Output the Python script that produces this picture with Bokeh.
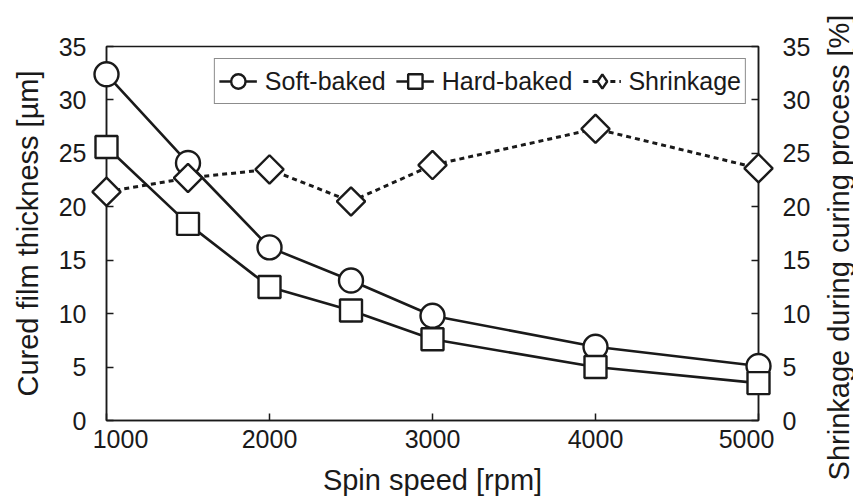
import math
from bokeh.plotting import figure
from bokeh.models import (Range1d, LinearAxis, FixedTicker, SingleIntervalTicker,
                          Legend, LegendItem)
from bokeh.core.properties import value
from bokeh.embed import file_html
from bokeh.resources import INLINE

speed = [1000, 1500, 2000, 2500, 3000, 4000, 5000]
soft_baked = [32.4, 24.1, 16.2, 13.1, 9.8, 6.9, 5.1]
hard_baked = [25.6, 18.4, 12.5, 10.3, 7.6, 5.0, 3.5]
shrinkage = [21.4, 22.7, 23.5, 20.5, 23.9, 27.3, 23.6]
x_ticks = [1000, 2000, 3000, 4000, 5000]
x_tick_labels = [str(t) for t in x_ticks]
x_title = "Spin speed [rpm]"
y_title = "Cured film thickness [µm]"
y2_title = "Shrinkage during curing process [%]"

FONT = "Liberation Sans"
INK = "#1a1a1a"

p = figure(width=853, height=498, output_backend="svg", toolbar_location=None,
           x_range=Range1d(1000, 5000), y_range=Range1d(0, 35),
           min_border_left=106, min_border_right=95, min_border_top=46,
           min_border_bottom=78)
p.extra_y_ranges = {"shr": Range1d(0, 35)}
p.xgrid.visible = False
p.ygrid.visible = False
p.outline_line_color = INK
p.outline_line_width = 1.5
p.background_fill_color = "white"
p.border_fill_color = "white"

# axes
p.xaxis.ticker = FixedTicker(ticks=x_ticks)
p.yaxis.ticker = SingleIntervalTicker(interval=5)
p.xaxis.axis_label = x_title
p.yaxis.axis_label = y_title
right = LinearAxis(y_range_name="shr", ticker=SingleIntervalTicker(interval=5))
p.add_layout(right, "right")

for ax in [p.xaxis[0], p.yaxis[0], right]:
    ax.major_tick_in = 7
    ax.major_tick_out = 0
    ax.minor_tick_line_color = None
    ax.axis_line_color = INK
    ax.axis_line_width = 1.5
    ax.major_tick_line_color = INK
    ax.major_tick_line_width = 1.5
    ax.major_label_text_font = FONT
    ax.major_label_text_font_size = "25px"
    ax.major_label_text_color = INK
    ax.axis_label_text_font = FONT
    ax.axis_label_text_font_size = "29px"
    ax.axis_label_text_font_style = "normal"
    ax.axis_label_text_color = INK

p.yaxis[0].major_label_standoff = 16
p.yaxis[0].axis_label_standoff = 12
right.major_label_standoff = 20

# right-hand title, reading bottom-to-top like the left one
y2t = p.text(x=[p.x_range.end], y=[(p.y_range.start + p.y_range.end) / 2],
             text=[y2_title], angle=math.pi / 2, x_offset=80, y_offset=14,
             text_align="center", text_baseline="middle",
             text_font=value(FONT), text_font_size="29px", text_color=INK,
             y_range_name="shr")
y2t.level = "overlay"

# x tick labels drawn as text so the end labels can sit inward (as in the original)
p.xaxis[0].major_label_overrides = {t: "" for t in x_ticks}
p.xaxis[0].major_label_standoff = 0
p.xaxis[0].axis_label_standoff = 43
xl = p.text(x=x_ticks, y=[0] * len(x_ticks), text=x_tick_labels,
            x_offset=[14, 0, 0, 0, -12], y_offset=9,
            text_align="center", text_baseline="top",
            text_font=value(FONT), text_font_size="25px", text_color=INK)
xl.level = "overlay"

# series
l1 = p.line(speed, soft_baked, line_color=INK, line_width=2.6)
m1 = p.scatter(speed, soft_baked, marker="circle", size=24, fill_color="white",
               line_color=INK, line_width=2.4)
l2 = p.line(speed, hard_baked, line_color=INK, line_width=2.6)
m2 = p.scatter(speed, hard_baked, marker="square", size=22, fill_color="white",
               line_color=INK, line_width=2.4)
l3 = p.line(speed, shrinkage, line_color=INK, line_width=3, line_dash="5 4",
            y_range_name="shr")
# diamond marker used for the legend key; hidden under the rotated squares below
m3_key = p.scatter(speed, shrinkage, marker="diamond", size=18, fill_color="white",
                   line_color=INK, line_width=2.4, y_range_name="shr")
m3 = p.scatter(speed, shrinkage, marker="square", angle=math.pi / 4, size=20,
               fill_color="white", line_color=INK, line_width=2.4, y_range_name="shr")
for r in [l1, m1, l2, m2, l3, m3]:
    r.level = "overlay"

legend = Legend(items=[
    LegendItem(label="Soft-baked", renderers=[l1, m1]),
    LegendItem(label="Hard-baked", renderers=[l2, m2]),
    LegendItem(label="Shrinkage", renderers=[l3, m3_key]),
], location="top_right", orientation="horizontal")
legend.label_text_font = FONT
legend.label_text_font_size = "25px"
legend.label_text_color = INK
legend.border_line_color = INK
legend.border_line_width = 1.5
legend.background_fill_alpha = 1
legend.glyph_width = 38
legend.glyph_height = 36
legend.label_standoff = 8
legend.spacing = 10
legend.padding = 4
legend.margin = 12
p.add_layout(legend)

open("out.html", "w").write(file_html(p, INLINE))
